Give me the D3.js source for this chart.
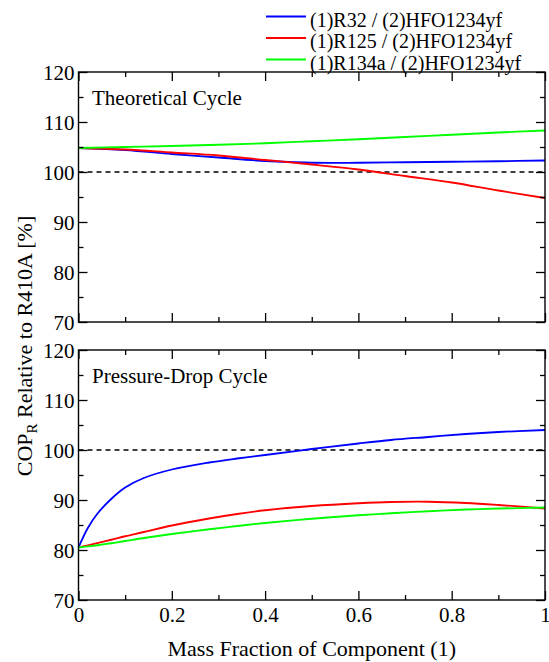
<!DOCTYPE html>
<html>
<head>
<meta charset="utf-8">
<script src="https://cdn.jsdelivr.net/npm/d3@7"></script>
<style>
  body { margin: 0; }
  svg text, svg tspan { font-family: "Liberation Serif", "Times New Roman", serif !important; }
</style>
</head>
<body>
<svg id="chart" width="549" height="662"></svg>
<script>
// ---- data ----
const seriesNames = ["(1)R32 / (2)HFO1234yf", "(1)R125 / (2)HFO1234yf", "(1)R134a / (2)HFO1234yf"];
const seriesColors = ["#0000ff", "#ff0000", "#00ff00"];

// Theoretical cycle
const xTheo = [0, 0.1, 0.2, 0.3, 0.4, 0.5, 0.6, 0.7, 0.8, 0.9, 1.0];
const theoR32  = [104.8, 104.4, 103.6, 102.9, 102.2, 101.85, 101.85, 101.95, 102.05, 102.15, 102.3];
const theoR125 = [104.8, 104.5, 103.9, 103.3, 102.4, 101.5, 100.5, 99.2, 97.9, 96.3, 94.8];
const theoR134a = [104.8, 105.0, 105.2, 105.45, 105.75, 106.15, 106.55, 107.0, 107.45, 107.9, 108.3];

// Pressure-drop cycle
const xPD = [0, 0.02, 0.04, 0.07, 0.1, 0.14, 0.2, 0.28, 0.34, 0.4, 0.5, 0.6, 0.67, 0.75, 0.83, 0.9, 1.0];
const pdR32  = [80.5, 84.4, 87.2, 90.2, 92.5, 94.4, 96.1, 97.5, 98.3, 99.0, 100.2, 101.3, 102.0, 102.6, 103.2, 103.6, 104.0];
const pdR125 = [80.5, 80.95, 81.4, 82.05, 82.75, 83.6, 84.9, 86.3, 87.2, 87.95, 88.8, 89.35, 89.6, 89.65, 89.4, 89.0, 88.3];
const pdR134a = [80.5, 80.72, 80.95, 81.35, 81.8, 82.4, 83.2, 84.15, 84.8, 85.4, 86.25, 86.95, 87.35, 87.75, 88.1, 88.3, 88.5];

const xTicks = [0, 0.2, 0.4, 0.6, 0.8, 1];
const xMinorTicks = [0.1, 0.3, 0.5, 0.7, 0.9];
const yTicks = [70, 80, 90, 100, 110, 120];
const yMinorTicks = [75, 85, 95, 105, 115];
const panelTitles = ["Theoretical Cycle", "Pressure-Drop Cycle"];
const refValue = 100;

// ---- layout ----
const svg = d3.select("#chart");
const left = 78.5, right = 545;
const panels = [
  { top: 72, bottom: 322, xs: xTheo, data: [theoR32, theoR125, theoR134a], title: panelTitles[0], xLabels: false },
  { top: 350, bottom: 600, xs: xPD, data: [pdR32, pdR125, pdR134a], title: panelTitles[1], xLabels: true }
];

const x = d3.scaleLinear().domain([0, 1]).range([left, right]);

function label(sel, size) {
  return sel.style("font-family", "Liberation Serif").attr("font-size", size);
}

panels.forEach(p => {
  const y = d3.scaleLinear().domain([70, 120]).range([p.bottom, p.top]);
  const g = svg.append("g");

  g.append("line")
    .attr("x1", x(0)).attr("x2", x(1))
    .attr("y1", y(refValue)).attr("y2", y(refValue))
    .attr("stroke", "#000").attr("stroke-width", 1.4)
    .attr("stroke-dasharray", "5,4");

  const line = d3.line().x(d => x(d[0])).y(d => y(d[1])).curve(d3.curveCatmullRom.alpha(0.5));
  p.data.forEach((vals, i) => {
    g.append("path")
      .datum(p.xs.map((xv, j) => [xv, vals[j]]))
      .attr("fill", "none")
      .attr("stroke", seriesColors[i])
      .attr("stroke-width", 1.8)
      .attr("d", line);
  });

  const major = 9, minor = 5;
  const axB = d3.axisBottom(x).tickValues(xTicks).tickSizeInner(-major).tickSizeOuter(0)
    .tickFormat(p.xLabels ? d3.format("~g") : "");
  const axBm = d3.axisBottom(x).tickValues(xMinorTicks).tickSizeInner(-minor).tickSizeOuter(0).tickFormat("");
  const axT = d3.axisTop(x).tickValues(xTicks).tickSizeInner(-major).tickSizeOuter(0).tickFormat("");
  const axTm = d3.axisTop(x).tickValues(xMinorTicks).tickSizeInner(-minor).tickSizeOuter(0).tickFormat("");
  const axL = d3.axisLeft(y).tickValues(yTicks).tickSizeInner(-major).tickSizeOuter(0);
  const axLm = d3.axisLeft(y).tickValues(yMinorTicks).tickSizeInner(-minor).tickSizeOuter(0).tickFormat("");
  const axR = d3.axisRight(y).tickValues(yTicks).tickSizeInner(-major).tickSizeOuter(0).tickFormat("");
  const axRm = d3.axisRight(y).tickValues(yMinorTicks).tickSizeInner(-minor).tickSizeOuter(0).tickFormat("");

  const put = (ax, tr) => {
    const a = g.append("g").attr("transform", tr).call(ax);
    a.attr("font-family", "Liberation Serif").attr("font-size", 21);
    a.selectAll(".domain").remove();
    a.selectAll("line").attr("stroke", "#000").attr("stroke-width", 1.3);
    label(a.selectAll("text").attr("fill", "#000"), 21);
    return a;
  };
  const b = put(axB, `translate(0,${p.bottom})`);
  b.selectAll("text").attr("dy", null).attr("y", 22);
  put(axBm, `translate(0,${p.bottom})`);
  put(axT, `translate(0,${p.top})`);
  put(axTm, `translate(0,${p.top})`);
  const l = put(axL, `translate(${left},0)`);
  l.selectAll("text").attr("x", -4).attr("dy", "0.34em");
  put(axLm, `translate(${left},0)`);
  put(axR, `translate(${right},0)`);
  put(axRm, `translate(${right},0)`);

  g.append("rect")
    .attr("x", left).attr("y", p.top)
    .attr("width", right - left).attr("height", p.bottom - p.top)
    .attr("fill", "none").attr("stroke", "#000").attr("stroke-width", 1.4);

  label(g.append("text"), 21)
    .attr("x", 92).attr("y", p.top + 33)
    .text(p.title);
});

label(svg.append("text"), 22)
  .attr("x", (left + right) / 2).attr("y", 656)
  .attr("text-anchor", "middle")
  .text("Mass Fraction of Component (1)");

const yt = label(svg.append("text"), 22)
  .attr("transform", "translate(32,346) rotate(-90)")
  .attr("text-anchor", "middle");
yt.append("tspan").text("COP");
yt.append("tspan").attr("dy", 5).attr("font-size", 15).text("R");
yt.append("tspan").attr("dy", -5).text(" Relative to R410A [%]");

const legend = svg.append("g");
seriesNames.forEach((name, i) => {
  const yy = 16.5 + i * 21.5;
  legend.append("line")
    .attr("x1", 266).attr("x2", 306)
    .attr("y1", yy).attr("y2", yy)
    .attr("stroke", seriesColors[i]).attr("stroke-width", 1.8);
  label(legend.append("text"), 20)
    .attr("x", 310).attr("y", yy + 10)
    .text(name);
});
</script>
</body>
</html>
